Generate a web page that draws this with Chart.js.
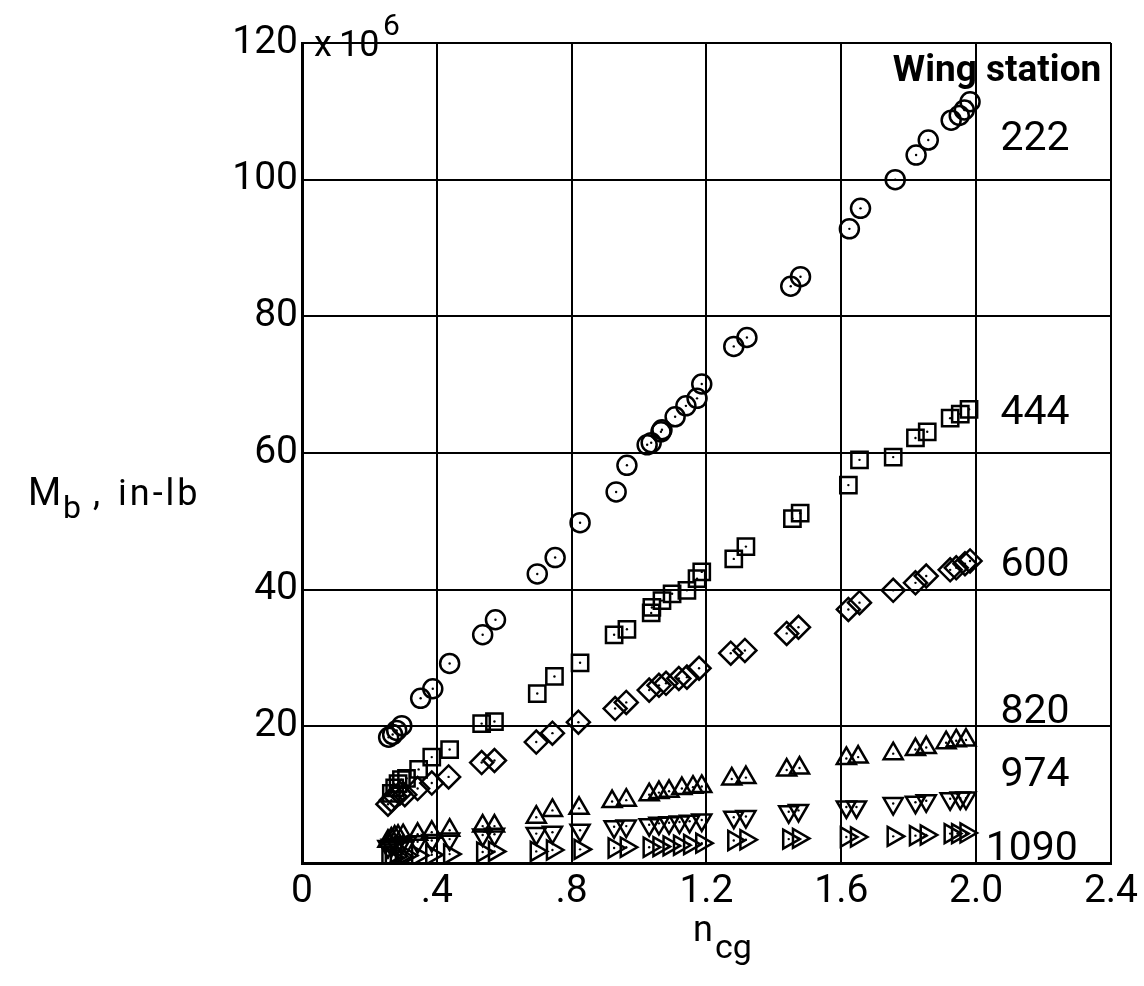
<!DOCTYPE html>
<html>
<head>
<meta charset="utf-8">
<script src="https://cdn.jsdelivr.net/npm/chart.js@4/dist/chart.umd.min.js"></script>
<style>
  html, body { margin: 0; padding: 0; background: #fff; }
  #wrap { width: 1144px; height: 986px; }
</style>
</head>
<body>
<div id="wrap"><canvas id="chart"></canvas></div>
<script>
// tick marks
const xTickValues = [0, 0.4, 0.8, 1.2, 1.6, 2.0, 2.4];
const xTickLabels = ['0', '.4', '.8', '1.2', '1.6', '2.0', '2.4'];
const yTickValues = [0, 20, 40, 60, 80, 100, 120];
const yTickLabels = ['', '20', '40', '60', '80', '100', '120'];

// wing stations (series)
const stations = ['222', '444', '600', '820', '974', '1090'];

// n_cg / M_b (x 10^6 in-lb)
const n222 = [0.257, 0.269, 0.281, 0.296, 0.352, 0.388, 0.438, 0.536, 0.574, 0.698, 0.751, 0.825, 0.932, 0.964,
  1.024, 1.036, 1.065, 1.068, 1.107, 1.139, 1.172, 1.186, 1.281, 1.320, 1.450, 1.479, 1.624, 1.657, 1.760, 1.822,
  1.858, 1.926, 1.950, 1.965, 1.982];
const m222 = [18.4, 18.8, 19.4, 20.1, 24.1, 25.5, 29.2, 33.4, 35.6, 42.3, 44.7, 49.8, 54.3, 58.2,
  61.2, 61.5, 63.1, 63.4, 65.3, 66.9, 68.0, 70.1, 75.6, 76.9, 84.4, 85.8, 92.8, 95.8, 100.0, 103.6,
  105.8, 108.7, 109.4, 110.2, 111.4];

const n444 = [0.265, 0.275, 0.285, 0.295, 0.310, 0.346, 0.385, 0.438, 0.533, 0.571, 0.698, 0.749, 0.825, 0.926,
  0.964, 1.036, 1.038, 1.068, 1.098, 1.142, 1.172, 1.186, 1.281, 1.317, 1.455, 1.478, 1.621, 1.654, 1.754, 1.820,
  1.855, 1.923, 1.953, 1.979];
const m444 = [10.2, 11.0, 11.6, 12.2, 12.4, 13.7, 15.5, 16.6, 20.4, 20.7, 24.8, 27.3, 29.3, 33.4,
  34.2, 36.6, 37.4, 38.4, 39.4, 39.9, 41.6, 42.6, 44.5, 46.3, 50.4, 51.2, 55.3, 59.0, 59.4, 62.2,
  63.1, 65.1, 65.7, 66.4];

const n600 = [0.255, 0.265, 0.275, 0.290, 0.305, 0.343, 0.385, 0.435, 0.533, 0.571, 0.695, 0.743, 0.820, 0.929,
  0.962, 1.030, 1.059, 1.080, 1.118, 1.142, 1.178, 1.272, 1.314, 1.438, 1.473, 1.621, 1.654, 1.754, 1.820,
  1.852, 1.923, 1.941, 1.967, 1.982];
const m600 = [8.6, 9.2, 9.8, 10.2, 10.0, 10.9, 11.7, 12.6, 14.7, 15.0, 17.7, 19.0, 20.6, 22.6,
  23.5, 25.3, 26.0, 26.3, 27.0, 27.2, 28.5, 30.7, 31.1, 33.6, 34.5, 37.1, 38.1, 39.9, 41.0,
  42.0, 42.9, 43.2, 43.8, 44.2];

const n820 = [0.255, 0.265, 0.275, 0.285, 0.300, 0.343, 0.385, 0.438, 0.536, 0.571, 0.695, 0.743, 0.822, 0.920,
  0.962, 1.030, 1.059, 1.089, 1.127, 1.160, 1.186, 1.275, 1.317, 1.438, 1.476, 1.615, 1.650, 1.754, 1.820,
  1.852, 1.911, 1.941, 1.970];
const m820 = [3.2, 3.5, 3.8, 3.9, 4.0, 4.2, 4.5, 4.8, 5.4, 5.4, 6.7, 7.7, 8.0, 9.0,
  9.2, 10.0, 10.3, 10.5, 10.9, 11.1, 11.2, 12.3, 12.5, 13.6, 13.9, 15.3, 15.5, 16.0, 16.6,
  16.9, 17.6, 17.9, 18.0];

const n974 = [0.255, 0.265, 0.280, 0.295, 0.310, 0.343, 0.385, 0.438, 0.536, 0.571, 0.695, 0.743, 0.825, 0.926,
  0.962, 1.030, 1.059, 1.089, 1.120, 1.150, 1.186, 1.281, 1.317, 1.444, 1.473, 1.615, 1.645, 1.754, 1.820,
  1.852, 1.923, 1.953, 1.970];
const m974 = [2.4, 2.6, 2.7, 2.9, 3.0, 3.1, 3.3, 3.5, 4.1, 4.2, 4.3, 4.5, 4.8, 5.3,
  5.4, 5.6, 5.8, 5.9, 6.0, 6.1, 6.3, 6.7, 6.8, 7.5, 7.7, 8.2, 8.2, 8.7, 8.9,
  9.1, 9.4, 9.5, 9.5];

const n1090 = [0.255, 0.265, 0.280, 0.295, 0.310, 0.343, 0.385, 0.438, 0.536, 0.571, 0.695, 0.743, 0.825, 0.926,
  0.962, 1.030, 1.059, 1.089, 1.120, 1.150, 1.186, 1.281, 1.317, 1.444, 1.473, 1.615, 1.645, 1.754, 1.820,
  1.852, 1.923, 1.945, 1.970];
const m1090 = [0.8, 0.9, 1.0, 1.0, 1.1, 1.1, 1.2, 1.3, 1.6, 1.7, 1.7, 1.9, 2.0, 2.2,
  2.3, 2.3, 2.4, 2.5, 2.6, 2.7, 2.9, 3.3, 3.4, 3.5, 3.6, 3.8, 3.8, 3.9, 4.0,
  4.1, 4.3, 4.3, 4.4];

const seriesX = [n222, n444, n600, n820, n974, n1090];
const seriesY = [m222, m444, m600, m820, m974, m1090];

// marker for each station
const markers = [
  { style: 'circle', radius: 9.5, rotation: 0 },
  { style: 'rect', radius: 11.5, rotation: 0 },
  { style: 'rectRot', radius: 11.5, rotation: 0 },
  { style: 'triangle', radius: 11, rotation: 0 },
  { style: 'triangle', radius: 11, rotation: 180 },
  { style: 'triangle', radius: 11, rotation: 90 }
];

const FONT = 'Roboto, "DejaVu Sans", sans-serif';

const datasets = stations.map((name, i) => ({
  label: name,
  data: seriesX[i].map((x, j) => ({ x: x, y: seriesY[i][j] })),
  pointStyle: markers[i].style,
  pointRadius: markers[i].radius,
  rotation: markers[i].rotation,
  borderColor: '#000',
  backgroundColor: 'rgba(0,0,0,0)',
  pointBorderWidth: 2.5,
  showLine: false
}));

// small dot in the middle of every symbol
const centerDots = {
  id: 'centerDots',
  afterDatasetsDraw(chart) {
    const ctx = chart.ctx;
    ctx.save();
    ctx.fillStyle = '#000';
    chart.data.datasets.forEach((ds, i) => {
      chart.getDatasetMeta(i).data.forEach(pt => {
        ctx.beginPath();
        ctx.arc(pt.x, pt.y, 1.2, 0, Math.PI * 2);
        ctx.fill();
      });
    });
    ctx.restore();
  }
};

// axis titles, multiplier and station labels
const annotations = {
  id: 'annotations',
  afterDraw(chart) {
    const ctx = chart.ctx;
    const xs = chart.scales.x, ys = chart.scales.y;
    ctx.save();
    ctx.fillStyle = '#000';
    ctx.textBaseline = 'alphabetic';
    ctx.textAlign = 'left';

    // x 10^6 next to the top tick
    const yTop = ys.getPixelForValue(120);
    ctx.font = '36px ' + FONT;
    ctx.fillText('x', ys.right + 12, yTop + 13);
    ctx.fillText('10', ys.right + 37, yTop + 13);
    ctx.font = '30px ' + FONT;
    ctx.fillText('6', ys.right + 81, yTop - 8);

    // y title: M_b , in-lb
    ctx.font = '38px ' + FONT;
    ctx.fillText('M', 28, 505);
    ctx.font = '32px ' + FONT;
    ctx.fillText('b', 63, 518);
    ctx.font = '36px ' + FONT;
    ctx.letterSpacing = '3px';
    ctx.fillText(',', 93, 505);
    ctx.fillText('in-lb', 118, 505);
    ctx.letterSpacing = '0px';

    // x title: n_cg
    ctx.font = '36px ' + FONT;
    ctx.fillText('n', 693, 941);
    ctx.font = '34px ' + FONT;
    ctx.fillText('cg', 715, 958);

    // station labels
    ctx.textAlign = 'center';
    ctx.textBaseline = 'middle';
    ctx.font = 'bold 37px ' + FONT;
    ctx.fillText('Wing station', xs.getPixelForValue(2.062), ys.getPixelForValue(115.8));
    const labelAt = { '222': 105.8, '444': 65.7, '600': 43.5, '820': 22.0, '974': 12.8, '1090': 1.9 };
    ctx.font = '41px ' + FONT;
    stations.forEach(s => {
      const xv = s === '1090' ? 2.165 : 2.175;
      ctx.fillText(s, xs.getPixelForValue(xv), ys.getPixelForValue(labelAt[s]));
    });
    ctx.restore();
  }
};

new Chart(document.getElementById('chart'), {
  type: 'scatter',
  data: { datasets: datasets },
  options: {
    responsive: true,
    maintainAspectRatio: false,
    animation: false,
    layout: { padding: { top: 43, right: 31, left: 0, bottom: 0 } },
    plugins: {
      legend: { display: false },
      tooltip: { enabled: false }
    },
    scales: {
      x: {
        type: 'linear',
        min: 0,
        max: 2.4,
        afterBuildTicks: s => { s.ticks = xTickValues.map(v => ({ value: v })); },
        afterFit: s => { s.height = 123; },
        grid: { color: '#000', lineWidth: 2, drawTicks: false },
        border: { color: '#000', width: 3 },
        ticks: {
          color: '#000',
          padding: 6,
          maxRotation: 0,
          font: { family: FONT, size: 39 },
          callback: (v, i) => xTickLabels[i]
        }
      },
      y: {
        type: 'linear',
        min: 0,
        max: 120,
        afterBuildTicks: s => { s.ticks = yTickValues.map(v => ({ value: v })); },
        afterFit: s => { s.width = 302; },
        grid: { color: '#000', lineWidth: 2, drawTicks: false },
        border: { color: '#000', width: 3 },
        ticks: {
          color: '#000',
          padding: 4,
          font: { family: FONT, size: 39 },
          callback: (v, i) => yTickLabels[i]
        }
      }
    }
  },
  plugins: [centerDots, annotations]
});
</script>
</body>
</html>
